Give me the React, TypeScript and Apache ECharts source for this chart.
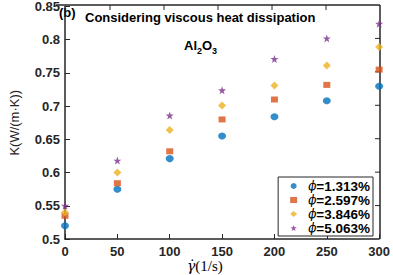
import React, { useEffect, useRef } from "react";
import * as echarts from "echarts";

const shearRates = [0, 50, 100, 150, 200, 250, 300];
const seriesNames = ["1.313%", "2.597%", "3.846%", "5.063%"];
const k1313 = [0.52, 0.575, 0.621, 0.655, 0.684, 0.708, 0.73];
const k2597 = [0.535, 0.584, 0.632, 0.68, 0.71, 0.732, 0.755];
const k3846 = [0.54, 0.6, 0.664, 0.701, 0.731, 0.761, 0.789];
const k5063 = [0.55, 0.618, 0.686, 0.724, 0.771, 0.802, 0.824];
const xTicks = [0, 50, 100, 150, 200, 250, 300];
const yTicks = [0.5, 0.55, 0.6, 0.65, 0.7, 0.75, 0.8, 0.85];

const colors = ["#0072BD", "#D95319", "#EDB120", "#7E2F8E"];
const STAR =
  "path://M0,-10 L2.4,-3.1 9.5,-3.1 3.8,1.2 5.9,8.1 0,4 -5.9,8.1 -3.8,1.2 -9.5,-3.1 -2.4,-3.1 Z";
const symbols = ["circle", "rect", "diamond", STAR];
const sizes = [[8, 7], [7, 6], [8, 8], [8, 8]];
const allData = [k1313, k2597, k3846, k5063];

export default function App() {
  const ref = useRef<HTMLDivElement>(null);
  useEffect(() => {
    const chart = echarts.init(ref.current!, null, { renderer: "svg" });
    const font = "'Liberation Sans', Arial, sans-serif";
    chart.setOption({
      animation: false,
      backgroundColor: "#fff",
      grid: { left: 56, right: 13, top: 5, bottom: 36 },
      xAxis: {
        type: "value",
        min: 0,
        max: 300,
        interval: 50,
        axisLine: { show: true, onZero: false, lineStyle: { color: "#262626", width: 1.5 } },
        axisTick: { inside: true, length: 5, lineStyle: { color: "#262626" } },
        axisLabel: { color: "#262626", fontFamily: font, fontWeight: "bold", fontSize: 13, margin: 6, formatter: (v: number) => (xTicks.includes(v) ? String(v) : "") },
        splitLine: { show: false },
      },
      yAxis: {
        type: "value",
        min: 0.5,
        max: 0.85,
        interval: 0.05,
        name: "K(W/(m·K))",
        nameLocation: "middle",
        nameRotate: 90,
        nameGap: 44,
        nameTextStyle: { color: "#262626", fontFamily: font, fontSize: 13 },
        axisLine: { show: true, lineStyle: { color: "#262626", width: 1.5 } },
        axisTick: { inside: true, length: 5, lineStyle: { color: "#262626" } },
        axisLabel: {
          color: "#262626",
          fontFamily: font,
          fontWeight: "bold",
          fontSize: 13,
          margin: 5,
          formatter: (v: number) => {
            const t = yTicks.find((y) => Math.abs(y - v) < 1e-6);
            return t === undefined ? "" : String(t);
          },
        },
        splitLine: { show: false },
      },
      legend: {
        orient: "vertical",
        right: 20,
        top: 177,
        backgroundColor: "#fff",
        borderColor: "#262626",
        borderWidth: 1,
        borderRadius: 0,
        padding: [2, 3, 1, 12],
        itemGap: 0,
        itemWidth: 7,
        itemHeight: 6,
        data: seriesNames.map((n) => ({ name: n })),
        formatter: (n: string) => `{p|ϕ}{b|=${n}}`,
        textStyle: {
          lineHeight: 14,
          rich: {
            p: { fontFamily: "'DejaVu Serif', serif", fontStyle: "italic", fontSize: 12, color: "#000", padding: [0, 0, 0, 6], lineHeight: 14 },
            b: { fontFamily: font, fontWeight: "bold", fontSize: 13.5, color: "#000", lineHeight: 14 },
          },
        },
      },
      series: allData.map((d, i) => ({
        type: "scatter",
        name: seriesNames[i],
        symbol: symbols[i],
        symbolSize: sizes[i],
        itemStyle: { color: colors[i] },
        data: d.map((v, j) => [shearRates[j], v]),
      })),
      graphic: [
        { type: "line", shape: { x1: 56, y1: 5, x2: 380, y2: 5 }, style: { stroke: "#262626", lineWidth: 1.5 } },
        { type: "line", shape: { x1: 380, y1: 5, x2: 380, y2: 239 }, style: { stroke: "#262626", lineWidth: 1.5 } },
        ...xTicks.slice(1, -1).map((t) => ({
          type: "line",
          shape: { x1: 56 + (t / 300) * 324, y1: 5, x2: 56 + (t / 300) * 324, y2: 10 },
          style: { stroke: "#262626", lineWidth: 1 },
        })),
        ...yTicks.slice(1, -1).map((t) => ({
          type: "line",
          shape: { x1: 375, y1: 239 - ((t - 0.5) / 0.35) * 234, x2: 380, y2: 239 - ((t - 0.5) / 0.35) * 234 },
          style: { stroke: "#262626", lineWidth: 1 },
        })),
        { type: "text", x: 59, y: 6, style: { text: "(b)", font: `bold 13px ${font}`, fill: "#000" } },
        { type: "text", x: 85, y: 11, style: { text: "Considering viscous heat dissipation", font: `bold 13px ${font}`, fill: "#000" } },
        {
          type: "text",
          x: 184,
          y: 36,
          style: {
            text: "{a|Al}{s|2}{a|O}{s|3}",
            rich: {
              a: { font: `bold 13px ${font}`, fill: "#000" },
              s: { font: `bold 9px ${font}`, fill: "#000", padding: [10, 0, 0, 0] },
            },
          },
        },
        {
          type: "text",
          x: 187,
          y: 258,
          style: {
            text: "{g|γ̇}{t|(1/s)}",
            rich: {
              g: { font: `italic 14px 'DejaVu Serif', serif`, fill: "#000" },
              t: { font: `15px 'Liberation Serif', serif`, fill: "#000" },
            },
          },
        },
      ],
    });
    return () => chart.dispose();
  }, []);
  return <div ref={ref} style={{ width: 393, height: 275, position: "absolute", left: 0, top: 0 }} />;
}
